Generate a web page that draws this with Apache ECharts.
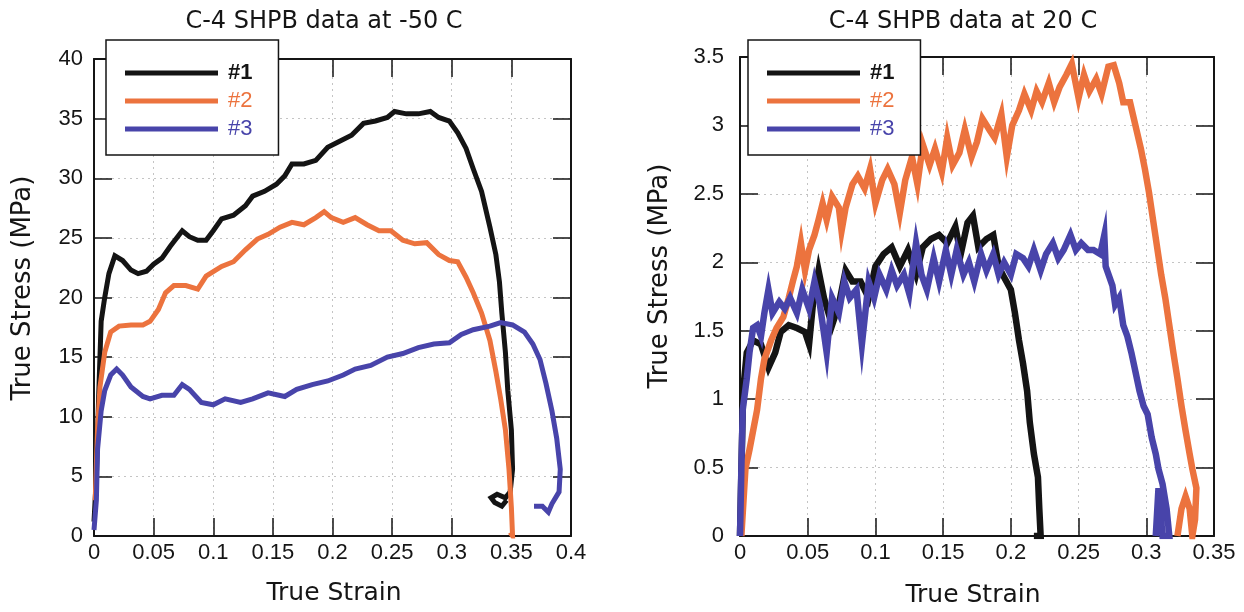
<!DOCTYPE html>
<html>
<head>
<meta charset="utf-8">
<script src="https://cdn.jsdelivr.net/npm/echarts@6/dist/echarts.min.js"></script>
<style>
html,body{margin:0;padding:0;background:#fff;}
#chart{width:1244px;height:612px;}
</style>
</head>
<body>
<div id="chart"></div>
<script>
// ---------- data (True Strain, True Stress MPa) ----------
const seriesNames = ['#1', '#2', '#3'];

const coldXTicks = ['0', '0.05', '0.1', '0.15', '0.2', '0.25', '0.3', '0.35', '0.4'];
const coldYTicks = ['0', '5', '10', '15', '20', '25', '30', '35', '40'];
const warmXTicks = ['0', '0.05', '0.1', '0.15', '0.2', '0.25', '0.3', '0.35'];
const warmYTicks = ['0', '0.5', '1', '1.5', '2', '2.5', '3', '3.5'];

// -50 C
const cold1 = [[0.000,1.2],[0.002,5],[0.004,12],[0.006,18],[0.009,20],[0.0125,22],[0.0175,23.5],[0.019,23.6],[0.024,23.1],[0.031,22.3],[0.037,22.0],[0.044,22.2],[0.050,22.8],[0.057,23.3],[0.064,24.3],[0.074,25.6],[0.080,25.1],[0.087,24.8],[0.094,24.8],[0.100,25.6],[0.107,26.6],[0.117,26.9],[0.127,27.7],[0.133,28.5],[0.143,28.9],[0.153,29.5],[0.160,30.2],[0.166,31.2],[0.176,31.2],[0.186,31.5],[0.196,32.6],[0.206,33.1],[0.216,33.6],[0.226,34.6],[0.236,34.8],[0.246,35.1],[0.252,35.6],[0.262,35.4],[0.272,35.4],[0.282,35.6],[0.289,35.1],[0.298,34.8],[0.305,33.8],[0.312,32.5],[0.318,30.8],[0.325,28.9],[0.332,25.9],[0.337,23.6],[0.340,21.3],[0.342,18.7],[0.345,15.4],[0.347,12.2],[0.350,8.9],[0.351,5.6],[0.349,3.7],[0.345,3.2],[0.338,3.5],[0.333,3.2],[0.336,2.8],[0.342,2.5],[0.346,3.0]];
const cold2 = [[0.001,3],[0.003,9],[0.005,12.5],[0.009,15.4],[0.014,17.1],[0.021,17.6],[0.031,17.7],[0.041,17.7],[0.047,18.0],[0.054,19.0],[0.060,20.4],[0.067,21.0],[0.077,21.0],[0.087,20.7],[0.094,21.8],[0.107,22.6],[0.117,23.0],[0.127,24.0],[0.137,24.9],[0.146,25.3],[0.156,25.9],[0.166,26.3],[0.176,26.1],[0.186,26.7],[0.193,27.2],[0.199,26.7],[0.209,26.3],[0.219,26.7],[0.229,26.1],[0.239,25.6],[0.249,25.6],[0.259,24.8],[0.269,24.5],[0.279,24.6],[0.289,23.6],[0.298,23.1],[0.305,23.0],[0.312,21.7],[0.318,20.4],[0.325,18.7],[0.332,16.4],[0.337,13.8],[0.341,11.5],[0.345,8.9],[0.348,5.6],[0.350,2.4],[0.351,0],[0.349,0.3]];
const cold3 = [[0.000,0.5],[0.002,3],[0.003,7.3],[0.006,10.5],[0.009,12.2],[0.014,13.5],[0.019,14.0],[0.024,13.5],[0.031,12.5],[0.041,11.7],[0.047,11.5],[0.057,11.8],[0.067,11.8],[0.074,12.7],[0.080,12.3],[0.090,11.2],[0.100,11.0],[0.110,11.5],[0.123,11.2],[0.133,11.5],[0.146,12.0],[0.160,11.7],[0.170,12.3],[0.183,12.7],[0.196,13.0],[0.209,13.5],[0.219,14.0],[0.232,14.3],[0.246,15.0],[0.259,15.3],[0.272,15.8],[0.285,16.1],[0.298,16.2],[0.308,16.9],[0.318,17.3],[0.332,17.6],[0.341,17.9],[0.351,17.7],[0.361,17.1],[0.368,16.1],[0.374,14.8],[0.379,12.8],[0.384,10.5],[0.388,8.2],[0.391,5.6],[0.390,3.7],[0.384,2.7],[0.381,2.0],[0.376,2.5],[0.369,2.5]];

// 20 C
const warm1 = [[0.000,0],[0.0023,1.06],[0.005,1.34],[0.0097,1.43],[0.0155,1.40],[0.021,1.23],[0.026,1.34],[0.030,1.49],[0.036,1.54],[0.042,1.52],[0.048,1.49],[0.051,1.40],[0.054,1.71],[0.058,1.94],[0.062,1.74],[0.068,1.54],[0.073,1.69],[0.078,1.94],[0.083,1.86],[0.089,1.86],[0.095,1.74],[0.100,1.97],[0.106,2.06],[0.112,2.11],[0.118,1.97],[0.124,2.09],[0.130,1.91],[0.135,2.11],[0.141,2.17],[0.147,2.20],[0.153,2.14],[0.159,2.26],[0.163,2.06],[0.168,2.29],[0.172,2.34],[0.176,2.11],[0.182,2.17],[0.187,2.20],[0.191,1.97],[0.195,1.89],[0.200,1.80],[0.203,1.63],[0.206,1.43],[0.209,1.26],[0.212,1.06],[0.214,0.83],[0.217,0.60],[0.220,0.43],[0.221,0.20],[0.222,0],[0.217,0]];
const warm2 = [[0.001,0],[0.004,0.49],[0.007,0.63],[0.0097,0.77],[0.0126,0.92],[0.0155,1.15],[0.018,1.29],[0.023,1.43],[0.027,1.52],[0.032,1.60],[0.036,1.74],[0.039,1.86],[0.042,1.97],[0.045,2.14],[0.048,1.94],[0.051,2.09],[0.055,2.20],[0.058,2.31],[0.061,2.43],[0.064,2.31],[0.068,2.48],[0.073,2.40],[0.075,2.23],[0.078,2.40],[0.083,2.57],[0.087,2.63],[0.092,2.54],[0.096,2.68],[0.100,2.43],[0.105,2.60],[0.109,2.68],[0.114,2.57],[0.118,2.36],[0.122,2.60],[0.127,2.77],[0.131,2.57],[0.135,2.86],[0.140,2.71],[0.144,2.83],[0.149,2.66],[0.153,2.91],[0.157,2.71],[0.162,2.80],[0.166,2.97],[0.171,2.77],[0.175,2.88],[0.179,3.05],[0.184,2.97],[0.188,2.91],[0.193,3.08],[0.197,2.77],[0.201,3.00],[0.206,3.11],[0.210,3.23],[0.215,3.11],[0.219,3.25],[0.223,3.17],[0.228,3.31],[0.232,3.17],[0.236,3.28],[0.241,3.37],[0.245,3.45],[0.250,3.20],[0.254,3.37],[0.258,3.25],[0.263,3.34],[0.267,3.23],[0.272,3.43],[0.276,3.44],[0.280,3.31],[0.283,3.17],[0.288,3.17],[0.292,3.00],[0.296,2.83],[0.299,2.68],[0.302,2.51],[0.305,2.31],[0.308,2.11],[0.311,1.91],[0.314,1.74],[0.317,1.54],[0.320,1.34],[0.323,1.15],[0.326,0.95],[0.329,0.77],[0.332,0.60],[0.334,0.49],[0.337,0.35],[0.336,0.12],[0.334,0],[0.332,0.20],[0.329,0.29],[0.326,0.20],[0.323,0]];
const warm3 = [[0.000,0],[0.001,0.49],[0.002,0.92],[0.005,1.15],[0.007,1.34],[0.0097,1.52],[0.0126,1.54],[0.0155,1.46],[0.018,1.63],[0.021,1.80],[0.024,1.63],[0.029,1.71],[0.033,1.66],[0.037,1.74],[0.042,1.63],[0.046,1.80],[0.051,1.66],[0.055,1.86],[0.059,1.69],[0.064,1.34],[0.068,1.74],[0.073,1.63],[0.077,1.86],[0.081,1.74],[0.086,1.80],[0.090,1.40],[0.095,1.86],[0.099,1.74],[0.103,1.91],[0.108,1.80],[0.112,1.94],[0.116,1.83],[0.121,1.91],[0.125,1.77],[0.130,2.14],[0.134,1.91],[0.138,1.80],[0.143,2.03],[0.147,1.86],[0.152,2.09],[0.156,1.91],[0.160,2.09],[0.165,1.91],[0.169,2.00],[0.173,1.86],[0.178,2.06],[0.182,1.94],[0.187,2.06],[0.191,1.91],[0.195,2.00],[0.200,1.91],[0.204,2.06],[0.209,2.03],[0.213,1.97],[0.217,2.09],[0.222,1.94],[0.226,2.06],[0.231,2.14],[0.235,2.03],[0.239,2.09],[0.244,2.20],[0.248,2.09],[0.252,2.14],[0.257,2.09],[0.261,2.09],[0.266,2.06],[0.269,2.20],[0.270,1.97],[0.275,1.83],[0.277,1.69],[0.280,1.74],[0.283,1.54],[0.286,1.46],[0.289,1.34],[0.292,1.20],[0.295,1.06],[0.298,0.95],[0.301,0.89],[0.304,0.72],[0.307,0.60],[0.309,0.49],[0.312,0.38],[0.315,0.20],[0.317,0],[0.312,0],[0.309,0.35],[0.307,0]];

// ---------- styling ----------
const colors = ['#141414', '#ec733e', '#4844aa'];
const tickFont = 'Liberation Sans';
const titleFont = 'DejaVu Sans';
const ink = '#151515';

function xAxes(gridIndex, max, ticks, labelMargin) {
  const common = {
    type: 'value', gridIndex: gridIndex, min: 0, max: max, interval: 0.05,
    axisLine: { show: true, onZero: false, lineStyle: { color: ink, width: 2 } },
    axisTick: { show: true, inside: true, length: 18, lineStyle: { color: ink, width: 1.5 } }
  };
  return [
    Object.assign({}, common, {
      position: 'bottom',
      axisLabel: { show: true, margin: labelMargin, color: ink, fontFamily: tickFont, fontSize: 22,
        formatter: v => ticks[Math.round(v / 0.05)] },
      splitLine: { show: true, lineStyle: { color: '#c4c4c4', type: [2, 4], width: 1 } }
    }),
    Object.assign({}, common, {
      position: 'top', axisLabel: { show: false }, splitLine: { show: false }
    })
  ];
}
function yAxes(gridIndex, max, interval, ticks, labelMargin) {
  const common = {
    type: 'value', gridIndex: gridIndex, min: 0, max: max, interval: interval,
    axisLine: { show: true, onZero: false, lineStyle: { color: ink, width: 2 } },
    axisTick: { show: true, inside: true, length: 18, lineStyle: { color: ink, width: 1.5 } }
  };
  return [
    Object.assign({}, common, {
      position: 'left',
      axisLabel: { show: true, margin: labelMargin, color: ink, fontFamily: tickFont, fontSize: 22,
        formatter: v => ticks[Math.round(v / interval)] },
      splitLine: { show: true, lineStyle: { color: '#c4c4c4', type: [2, 4], width: 1 } }
    }),
    Object.assign({}, common, {
      position: 'right', axisLabel: { show: false }, splitLine: { show: false }
    })
  ];
}

function lineSeries(name, data, idx, xi, yi, width) {
  return {
    type: 'line', name: name, data: data, xAxisIndex: xi, yAxisIndex: yi,
    showSymbol: false, symbol: 'none', animation: false, z: 3,
    color: colors[idx],
    lineStyle: { color: colors[idx], width: width, join: 'miter' },
    itemStyle: { color: colors[idx] }
  };
}

function legendAt(left, top) {
  return {
    orient: 'vertical', left: left, top: top,
    backgroundColor: '#fff', borderColor: ink, borderWidth: 1.5,
    padding: [22, 26, 15, 19], itemGap: 6,
    itemWidth: 93, itemHeight: 5, icon: 'rect',
    selectedMode: false, z: 10,
    textStyle: { fontFamily: tickFont, fontSize: 22, padding: [0, 0, 0, 5] },
    data: [
      { name: seriesNames[0], textStyle: { color: colors[0], fontWeight: 'bold' } },
      { name: seriesNames[1], textStyle: { color: colors[1] } },
      { name: seriesNames[2], textStyle: { color: colors[2] } }
    ]
  };
}

const option = {
  backgroundColor: '#fff',
  animation: false,
  title: [
    { text: 'C-4 SHPB data at -50 C', left: 319, top: 5, textAlign: 'center',
      textStyle: { fontFamily: titleFont, fontSize: 24, fontWeight: 'normal', color: ink } },
    { text: 'C-4 SHPB data at 20 C', left: 958, top: 5, textAlign: 'center',
      textStyle: { fontFamily: titleFont, fontSize: 24, fontWeight: 'normal', color: ink } }
  ],
  grid: [
    { left: 94, top: 59, width: 477, height: 477, containLabel: false },
    { left: 740, top: 57, width: 474, height: 479, containLabel: false }
  ],
  xAxis: [].concat(xAxes(0, 0.4, coldXTicks, 6), xAxes(1, 0.35, warmXTicks, 6)),
  yAxis: [].concat(yAxes(0, 40, 5, coldYTicks, 11), yAxes(1, 3.5, 0.5, warmYTicks, 16)),
  legend: [legendAt(106, 40), legendAt(748, 40)],
  graphic: [
    { type: 'text', x: 334, y: 593, style: { text: 'True Strain', fontFamily: titleFont, fontSize: 25,
        fill: ink, align: 'center', verticalAlign: 'middle' } },
    { type: 'text', x: 973, y: 595, style: { text: 'True Strain', fontFamily: titleFont, fontSize: 25,
        fill: ink, align: 'center', verticalAlign: 'middle' } },
    { type: 'text', x: 23, y: 288, rotation: Math.PI / 2, style: { text: 'True Stress (MPa)', fontFamily: titleFont,
        fontSize: 26, fill: ink, align: 'center', verticalAlign: 'middle' } },
    { type: 'text', x: 660, y: 276, rotation: Math.PI / 2, style: { text: 'True Stress (MPa)', fontFamily: titleFont,
        fontSize: 26, fill: ink, align: 'center', verticalAlign: 'middle' } }
  ],
  series: [
    lineSeries(seriesNames[0], cold1, 0, 0, 0, 5),
    lineSeries(seriesNames[1], cold2, 1, 0, 0, 5),
    lineSeries(seriesNames[2], cold3, 2, 0, 0, 5),
    lineSeries(seriesNames[0], warm1, 0, 2, 2, 6.5),
    lineSeries(seriesNames[1], warm2, 1, 2, 2, 6.5),
    lineSeries(seriesNames[2], warm3, 2, 2, 2, 6.5)
  ]
};

const chart = echarts.init(document.getElementById('chart'), null, { renderer: 'canvas' });
chart.setOption(option);
</script>
</body>
</html>
